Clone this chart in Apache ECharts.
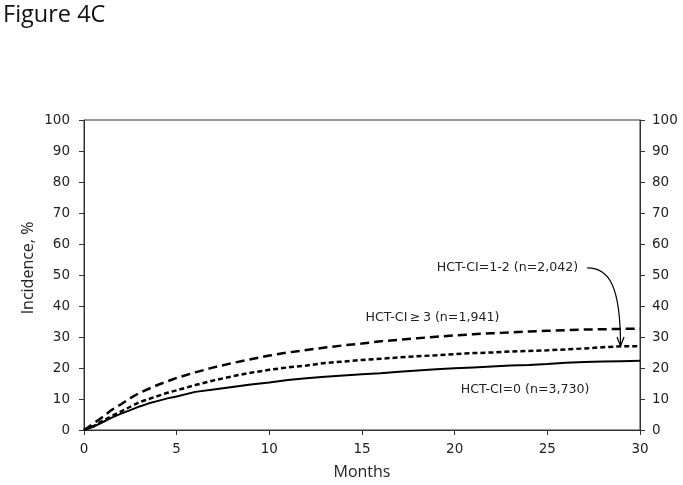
<!DOCTYPE html>
<html>
<head>
<meta charset="utf-8">
<script src="https://cdn.jsdelivr.net/npm/echarts@6/dist/echarts.min.js"></script>
<style>html,body{margin:0;padding:0;background:#fff}#c{width:683px;height:485px}</style>
</head>
<body>
<div id="c"></div>
<script>
const months = [0,0.5,1,1.5,2,2.5,3,3.5,4,4.5,5,6,7,8,9,10,11,12,13,14,15,16,17,18,19,20,21,22,23,24,25,26,27,28,29,30];
const hct0 = [0,1,2.5,4,5.3,6.4,7.6,8.6,9.4,10.2,10.8,12.3,13.1,13.9,14.7,15.3,16.1,16.7,17.2,17.6,18.0,18.3,18.8,19.2,19.6,19.9,20.2,20.5,20.8,21.0,21.3,21.7,21.9,22.1,22.2,22.3];
const hct12 = [0,2,4.2,6.5,8.3,10.3,12,13.3,14.6,15.7,16.8,18.6,20.2,21.6,22.8,24,25,25.8,26.6,27.3,27.9,28.6,29.1,29.6,30.1,30.5,30.9,31.2,31.5,31.8,32.0,32.2,32.4,32.5,32.6,32.7];
const hct3 = [0,1.2,3,4.5,6,7.5,9,10,11,12,12.8,14.5,16,17.3,18.5,19.4,20.2,20.8,21.6,22.1,22.6,23.0,23.4,23.8,24.1,24.5,24.8,25.0,25.3,25.5,25.7,26.0,26.3,26.7,27.0,27.0];
const xTicks = [0,5,10,15,20,25,30];
const yTicks = [0,10,20,30,40,50,60,70,80,90,100];
const labels = [
  {text:'HCT-CI=1-2 (n=2,042)', x:22.85, y:52.2},
  {text:'HCT-CI\u2009\u2265\u20093 (n=1,941)', x:18.8, y:36.1},
  {text:'HCT-CI=0 (n=3,730)', x:23.8, y:13.1}
];
const arrowFrom = [27.15, 52.3];
const arrowTo = [28.95, 27.1];

const pair = (ys) => months.map((m,i)=>[m, ys[i]]);
const chart = echarts.init(document.getElementById('c'), null, {renderer:'canvas'});
const lblFont = {fontFamily:'DejaVu Sans', fontSize:13.5, color:'#222'};
const yBase = {
  type:'value', min:0, max:100, interval:10,
  axisLine:{show:true, lineStyle:{color:'#333', width:1}},
  axisTick:{show:true, length:5, lineStyle:{color:'#333'}},
  splitLine:{show:false},
};
chart.setOption({
  animation:false,
  backgroundColor:'#fff',
  grid:{left:84, right:43, top:120, bottom:51, show:true, borderColor:'#333', borderWidth:1, backgroundColor:'transparent'},
  xAxis:{type:'value', min:0, max:30, interval:5,
    axisLine:{lineStyle:{color:'#333'}}, axisTick:{length:5, lineStyle:{color:'#333'}},
    splitLine:{show:false},
    axisLabel:Object.assign({margin:12, formatter:v=>xTicks.includes(v)?String(v):''}, lblFont),
    name:'Months', nameLocation:'middle', nameGap:34,
    nameTextStyle:{fontFamily:'Open Sans', fontSize:16, color:'#222'}},
  yAxis:[
    Object.assign({}, yBase, {position:'left', axisLabel:Object.assign({margin:14, formatter:v=>yTicks.includes(v)?String(v):''}, lblFont)}),
    Object.assign({}, yBase, {position:'right', axisLabel:Object.assign({margin:12, formatter:v=>yTicks.includes(v)?String(v):''}, lblFont)})
  ],
  series:[
    {type:'line', data:pair(hct0), showSymbol:false, lineStyle:{color:'#000', width:2}},
    {type:'line', data:pair(hct12), showSymbol:false, lineStyle:{color:'#000', width:2.5, type:[9,5]}},
    {type:'line', data:pair(hct3), showSymbol:false, lineStyle:{color:'#000', width:2.5, type:[5,3]}}
  ]
});
const g = [];
g.push({type:'text', x:3, y:15, style:{text:'Figure 4C', fontFamily:'Open Sans', fontSize:23.5, fill:'#111', verticalAlign:'middle'}});
g.push({type:'text', x:28, y:268, rotation:Math.PI/2, style:{text:'Incidence, %', fontFamily:'Open Sans', fontSize:16, fill:'#222', align:'center', verticalAlign:'middle'}});
labels.forEach(l=>{
  const p = chart.convertToPixel({gridIndex:0}, [l.x, l.y]);
  g.push({type:'text', x:p[0], y:p[1], style:{text:l.text, fontFamily:'DejaVu Sans', fontSize:12.6, fill:'#222', align:'center', verticalAlign:'middle'}});
});
const a = chart.convertToPixel({gridIndex:0}, arrowFrom);
const b = chart.convertToPixel({gridIndex:0}, arrowTo);
g.push({type:'bezierCurve', shape:{x1:a[0], y1:a[1], cpx1:a[0]+22, cpy1:a[1], cpx2:b[0], cpy2:a[1]+18, x2:b[0], y2:b[1]}, style:{stroke:'#000', lineWidth:1.2, fill:null}});
g.push({type:'polyline', shape:{points:[[b[0]-3.5, b[1]-9],[b[0], b[1]],[b[0]+3.5, b[1]-9]]}, style:{stroke:'#000', lineWidth:1.2, fill:null}});
chart.setOption({graphic:g});
</script>
</body>
</html>
